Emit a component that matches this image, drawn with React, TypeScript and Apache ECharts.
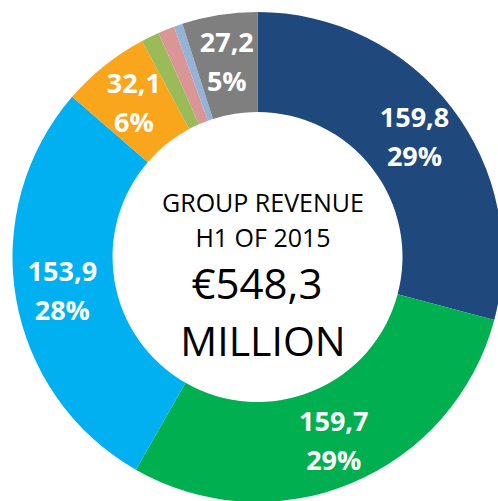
import React, { useEffect, useRef } from "react";
import * as echarts from "echarts";

const categories = ["Segment A", "Segment B", "Segment C", "Segment D", "Segment E", "Segment F", "Segment G", "Other"];
const values = [159.8, 159.7, 153.9, 32.1, 6.5, 5.9, 3.2, 27.2];
const percents = ["29%", "29%", "28%", "6%", "", "", "", "5%"];
const valueLabels = ["159,8", "159,7", "153,9", "32,1", "", "", "", "27,2"];
const colors = ["#1F497D", "#00B050", "#00B0F0", "#F9A61D", "#9BBB59", "#D99694", "#95B3D7", "#7F7F7F"];
const centerLines = ["GROUP REVENUE", "H1 OF 2015", "€548,3", "MILLION"];

export default function App() {
  const ref = useRef<HTMLDivElement>(null);
  useEffect(() => {
    const chart = echarts.init(ref.current!, null, { renderer: "svg" });
    chart.setOption({
      animation: false,
      backgroundColor: "#ffffff",
      series: [
        {
          type: "pie",
          center: [257.5, 257],
          radius: [145, 245],
          startAngle: 90,
          clockwise: true,
          avoidLabelOverlap: false,
          itemStyle: { borderColor: "#ffffff", borderWidth: 0 },
          label: {
            show: true,
            position: "inside",
            color: "#ffffff",
            fontFamily: "Open Sans",
            fontWeight: "bold",
            fontSize: 27,
            lineHeight: 39,
            formatter: (p: any) => (valueLabels[p.dataIndex] ? valueLabels[p.dataIndex] + "\n" + percents[p.dataIndex] : ""),
          },
          labelLine: { show: false },
          data: categories.map((c, i) => ({
            name: c,
            value: values[i],
            itemStyle: { color: colors[i] },
            label: { show: valueLabels[i] !== "" },
          })),
        },
      ],
      graphic: [
        { type: "text", x: 263, y: 202, style: { text: centerLines[0], fontFamily: "Open Sans", fontSize: 25, fill: "#000", textAlign: "center", textVerticalAlign: "middle" } },
        { type: "text", x: 263, y: 237, style: { text: centerLines[1], fontFamily: "Open Sans", fontSize: 25, fill: "#000", textAlign: "center", textVerticalAlign: "middle" } },
        { type: "text", x: 257, y: 282, style: { text: centerLines[2], fontFamily: "Open Sans", fontSize: 42, fill: "#000", textAlign: "center", textVerticalAlign: "middle" } },
        { type: "text", x: 263, y: 340, style: { text: centerLines[3], fontFamily: "Open Sans", fontSize: 41, fill: "#000", textAlign: "center", textVerticalAlign: "middle" } },
      ],
    });
    return () => chart.dispose();
  }, []);
  return <div ref={ref} style={{ position: "fixed", left: 0, top: 0, width: 498, height: 501 }} />;
}
